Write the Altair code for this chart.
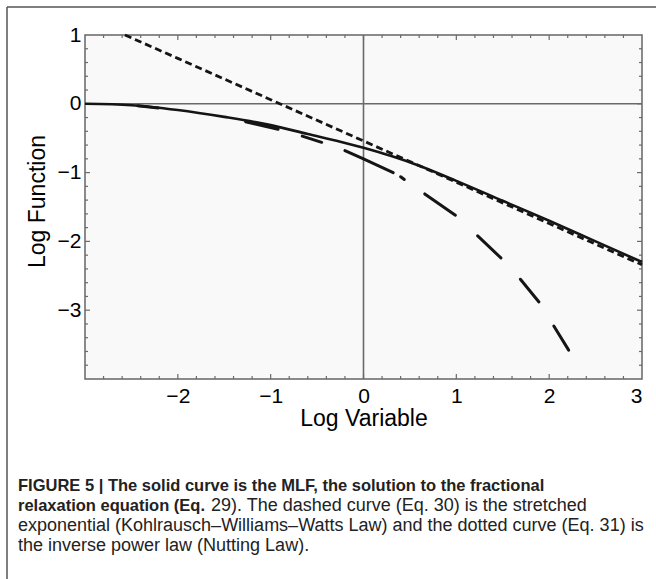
import altair as alt
import pandas as pd

# ---- data ----
mlf_x = [-3.0, -2.5, -2.0, -1.5, -1.0, -0.6, -0.25, 0.0, 0.3, 0.6, 1.0, 1.5, 2.0, 2.5, 3.0]
mlf_y = [0.0, -0.02, -0.09, -0.19, -0.31, -0.44, -0.55, -0.64, -0.76, -0.90, -1.12, -1.41, -1.70, -2.00, -2.30]

power_x = [-2.57, -2.0, -1.0, 0.0, 1.0, 2.0, 3.0]
power_y = [1.0, 0.66, 0.06, -0.54, -1.14, -1.74, -2.34]

kww_piece = [0, 0, 1, 1, 2, 2, 3, 3, 3, 4, 4, 5, 5, 6, 6, 7, 7, 8, 8]
kww_x = [-2.43, -2.21, -1.27, -0.92, -0.66, -0.45, -0.20, 0.0, 0.32, 0.40, 0.44,
         0.66, 0.99, 1.23, 1.48, 1.69, 1.89, 2.05, 2.21]
kww_y = [-0.03, -0.06, -0.26, -0.37, -0.47, -0.56, -0.68, -0.80, -1.00, -1.06, -1.10,
         -1.31, -1.62, -1.92, -2.24, -2.55, -2.88, -3.23, -3.58]

x_labels = [-2, -1, 0, 1, 2, 3]
y_labels = [-3, -2, -1, 0, 1]
x_major_ticks = [-2, -1, 0, 1, 2]
y_major_ticks = [-3, -2, -1, 0]
x_minor_ticks = [round(-2.8 + 0.2 * i, 1) for i in range(29) if round(-2.8 + 0.2 * i, 1) not in x_major_ticks]
y_minor_ticks = [round(-3.8 + 0.2 * i, 1) for i in range(24) if round(-3.8 + 0.2 * i, 1) not in y_major_ticks]

caption_bold_1 = "FIGURE 5 | The solid curve is the MLF, the solution to the fractional"
caption_bold_2 = "relaxation equation (Eq."
caption_norm_2 = "29). The dashed curve (Eq. 30) is the stretched"
caption_norm_3 = "exponential (Kohlrausch–Williams–Watts Law) and the dotted curve (Eq. 31) is"
caption_norm_4 = "the inverse power law (Nutting Law)."

# ---- layout ----
W, H = 557, 344
PL, PT = 85, 35
FONT = "Liberation Sans"
INK = "#151515"
GRAY = "#6a6a6a"

xs = alt.Scale(domain=[-3, 3], nice=False, zero=False)
ys = alt.Scale(domain=[-4, 1], nice=False, zero=False)
xaxis = alt.Axis(values=x_labels, ticks=False, domain=False, grid=False, labelFontSize=21,
                 labelFont=FONT, labelColor="black", labelPadding=6, title="Log Variable",
                 titleFont=FONT, titleFontSize=23, titleFontWeight="normal", titleColor="black",
                 titlePadding=1, format="d")
yaxis = alt.Axis(values=y_labels, ticks=False, domain=False, grid=False, labelFontSize=21,
                 labelFont=FONT, labelColor="black", labelPadding=4, title="Log Function",
                 titleFont=FONT, titleFontSize=23, titleFontWeight="normal", titleColor="black",
                 titlePadding=8, titleY=166, format="d")


def X(f="x"):
    return alt.X(f"{f}:Q", scale=xs, axis=xaxis)


def Y(f="y"):
    return alt.Y(f"{f}:Q", scale=ys, axis=yaxis)


mlf_df = pd.DataFrame({"x": mlf_x, "y": mlf_y})
pow_df = pd.DataFrame({"x": power_x, "y": power_y})
kww_df = pd.DataFrame({"x": kww_x, "y": kww_y, "piece": kww_piece})

layers = []

# zero lines
layers.append(alt.Chart(pd.DataFrame({"x": [0]})).mark_rule(color=GRAY, strokeWidth=1.6).encode(x=X()))
layers.append(alt.Chart(pd.DataFrame({"y": [0]})).mark_rule(color=GRAY, strokeWidth=1.6).encode(y=Y()))

# inward ticks on all four sides
for vals, ln in ((x_minor_ticks, 3), (x_major_ticks, 5)):
    d = pd.DataFrame({"x": vals})
    layers.append(alt.Chart(d).mark_rule(color=GRAY, strokeWidth=1.2).encode(
        x=X(), y=alt.value(H), y2=alt.value(H - ln)))
    layers.append(alt.Chart(d).mark_rule(color=GRAY, strokeWidth=1.2).encode(
        x=X(), y=alt.value(0), y2=alt.value(ln)))
for vals, ln in ((y_minor_ticks, 3), (y_major_ticks, 5)):
    d = pd.DataFrame({"y": vals})
    layers.append(alt.Chart(d).mark_rule(color=GRAY, strokeWidth=1.2).encode(
        y=Y(), x=alt.value(0), x2=alt.value(ln)))
    layers.append(alt.Chart(d).mark_rule(color=GRAY, strokeWidth=1.2).encode(
        y=Y(), x=alt.value(W), x2=alt.value(W - ln)))

# curves
layers.append(alt.Chart(mlf_df).mark_line(color=INK, strokeWidth=2.6, interpolate="monotone").encode(
    x=X(), y=Y(), order="x:Q"))
layers.append(alt.Chart(kww_df).mark_line(color=INK, strokeWidth=3, strokeCap="round").encode(
    x=X(), y=Y(), detail="piece:N", order="x:Q"))
layers.append(alt.Chart(pow_df).mark_line(color=INK, strokeWidth=2.8, strokeDash=[7, 4]).encode(
    x=X(), y=Y(), order="x:Q"))

# outer figure frame
one = pd.DataFrame({"a": [0]})
layers.append(alt.Chart(one).mark_rule(color="#555555", strokeWidth=1.5).encode(
    x=alt.value(7 - PL), x2=alt.value(656 - PL), y=alt.value(7 - PT)))
layers.append(alt.Chart(one).mark_rule(color="#555555", strokeWidth=1.5).encode(
    x=alt.value(7 - PL), y=alt.value(7 - PT), y2=alt.value(579 - PT)))


def cap(text, x, y, bold, size):
    return alt.Chart(pd.DataFrame({"t": [text]})).mark_text(
        align="left", baseline="alphabetic", font=FONT, fontSize=size,
        fontWeight="bold" if bold else "normal", color="#222222").encode(
        x=alt.value(x - PL), y=alt.value(y - PT), text="t:N")


layers.append(cap(caption_bold_1, 18, 491, True, 16.5))
layers.append(cap(caption_bold_2, 18, 511, True, 16.5))
layers.append(cap(caption_norm_2, 211, 511, False, 18))
layers.append(cap(caption_norm_3, 18, 531, False, 18))
layers.append(cap(caption_norm_4, 18, 551, False, 18))

chart = alt.layer(*layers).properties(
    width=W, height=H, autosize="none",
    padding={"left": PL, "top": PT, "right": 656 - PL - W, "bottom": 579 - PT - H},
    background="white",
).configure_view(stroke="#666666", strokeWidth=1.5, fill="#f9f9f9")

chart.save("out.html", embed_options={"renderer": "svg", "actions": False})
